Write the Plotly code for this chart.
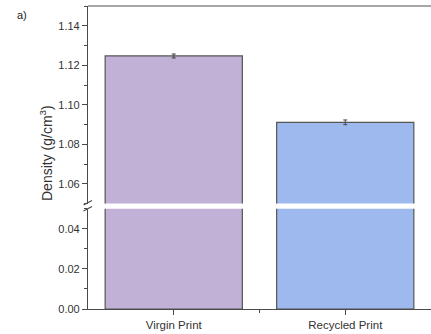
import plotly.graph_objects as go

categories = ["Virgin Print", "Recycled Print"]
x_pos = [0, 1]
density = [1.1247, 1.0911]
density_err = [0.0010, 0.0012]
bar_colors = ["#C1B1D6", "#9DB9EE"]
lower_ticks = [0.00, 0.02, 0.04]
upper_ticks = [1.06, 1.08, 1.10, 1.12, 1.14]

W, H = 431, 334
L, R, T, B = 88, 0, 6, 25
plot_h = H - T - B
plot_w = W - L - R

def py(p):  # pixel y -> paper y
    return (H - B - p) / plot_h

def px(p):
    return (p - L) / plot_w

fig = go.Figure()

line_col = "#4a4a4a"
fam = "Liberation Sans, Arial, sans-serif"
font = dict(family=fam, size=11, color="#333333")

# lower segment
fig.add_trace(go.Bar(
    x=x_pos, y=density, width=0.8, xaxis="x", yaxis="y",
    marker=dict(color=bar_colors, line=dict(color="#555555", width=1.2)),
    showlegend=False, hoverinfo="skip",
))
# upper segment
fig.add_trace(go.Bar(
    x=x_pos, y=density, width=0.8, xaxis="x", yaxis="y2",
    marker=dict(color=bar_colors, line=dict(color="#555555", width=1.2)),
    error_y=dict(type="data", array=density_err, color="#444444", thickness=1, width=2),
    showlegend=False,
))

axis_common = dict(
    showline=True, linecolor=line_col, linewidth=1.2,
    ticks="outside", ticklen=5, tickwidth=1, tickcolor=line_col,
    showgrid=False, zeroline=False, tickfont=font,
)

fig.update_layout(
    width=W, height=H,
    margin=dict(l=L, r=R, t=T, b=B),
    plot_bgcolor="white", paper_bgcolor="white",
    bargap=0.2,
    xaxis=dict(
        range=[-0.5, 1.5], tickvals=x_pos, ticktext=categories,
        anchor="y", **{**axis_common, "tickfont": dict(family=fam, size=11.5, color="#333333")},
        minor=dict(tickvals=[0.5], ticks="outside", ticklen=3, tickcolor=line_col),
    ),
    yaxis=dict(
        domain=[0, py(208.7)], range=[0, 0.05], anchor="x",
        tickvals=lower_ticks, tickformat=".2f",
        minor=dict(dtick=0.01, tick0=0, ticks="outside", ticklen=3, tickcolor=line_col),
        **axis_common,
    ),
    yaxis2=dict(
        domain=[py(203.5), 1], range=[1.05, 1.15], anchor="x",
        tickvals=upper_ticks, tickformat=".2f",
        minor=dict(dtick=0.01, tick0=1.05, ticks="outside", ticklen=3, tickcolor=line_col),
        **axis_common,
    ),
    shapes=[
        dict(type="line", xref="paper", yref="paper", x0=0, x1=1, y0=1, y1=1,
             line=dict(color="#8a8a8a", width=1.5)),
        dict(type="line", xref="paper", yref="paper",
             x0=px(83.5), x1=px(92), y0=py(205), y1=py(200.5),
             line=dict(color=line_col, width=1.2)),
        dict(type="line", xref="paper", yref="paper",
             x0=px(83.5), x1=px(92), y0=py(211), y1=py(206.5),
             line=dict(color=line_col, width=1.2)),
    ],
    annotations=[
        dict(text="Density (g/cm<sup>3</sup>)", textangle=-90, xref="paper", yref="paper",
             x=px(46), y=py(153), showarrow=False, xanchor="center", yanchor="middle",
             font=dict(family=fam, size=14, color="#333333")),
        dict(text="a)", xref="paper", yref="paper", x=px(22), y=py(15),
             showarrow=False, xanchor="center", yanchor="middle",
             font=dict(family=fam, size=11, color="#222222")),
    ],
)

fig.write_html("out.html", post_script="document.body.style.margin='0';",
               config={"displayModeBar": False})
